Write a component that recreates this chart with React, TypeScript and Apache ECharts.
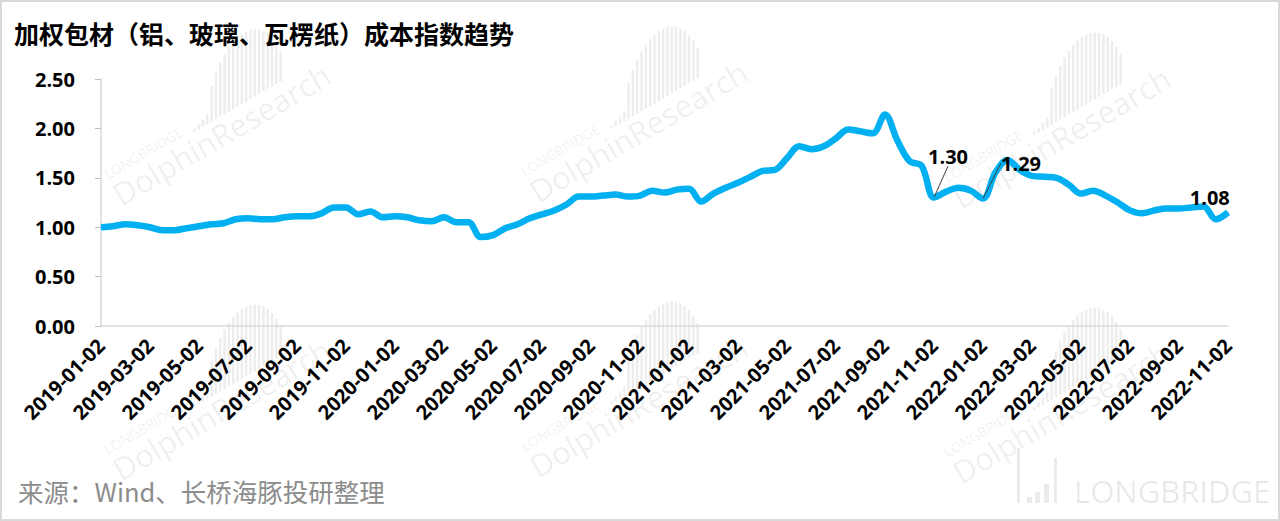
import React, { useEffect, useRef } from "react";
import * as echarts from "echarts";

const dates: string[] = [
  "2019-01-02", "2019-01-17", "2019-02-02", "2019-02-17", "2019-03-02", "2019-03-17", "2019-04-02", "2019-04-17",
  "2019-05-02", "2019-05-17", "2019-06-02", "2019-06-17", "2019-07-02", "2019-07-17", "2019-08-02", "2019-08-17",
  "2019-09-02", "2019-09-17", "2019-10-02", "2019-10-17", "2019-11-02", "2019-11-17", "2019-12-02", "2019-12-17",
  "2020-01-02", "2020-01-17", "2020-02-02", "2020-02-17", "2020-03-02", "2020-03-17", "2020-04-02", "2020-04-17",
  "2020-05-02", "2020-05-17", "2020-06-02", "2020-06-17", "2020-07-02", "2020-07-17", "2020-08-02", "2020-08-17",
  "2020-09-02", "2020-09-17", "2020-10-02", "2020-10-17", "2020-11-02", "2020-11-17", "2020-12-02", "2020-12-17",
  "2021-01-02", "2021-01-17", "2021-02-02", "2021-02-17", "2021-03-02", "2021-03-17", "2021-04-02", "2021-04-17",
  "2021-05-02", "2021-05-17", "2021-06-02", "2021-06-17", "2021-07-02", "2021-07-17", "2021-08-02", "2021-08-17",
  "2021-09-02", "2021-09-17", "2021-10-02", "2021-10-17", "2021-11-02", "2021-11-17", "2021-12-02", "2021-12-17",
  "2022-01-02", "2022-01-17", "2022-02-02", "2022-02-17", "2022-03-02", "2022-03-17", "2022-04-02", "2022-04-17",
  "2022-05-02", "2022-05-17", "2022-06-02", "2022-06-17", "2022-07-02", "2022-07-17", "2022-08-02", "2022-08-17",
  "2022-09-02", "2022-09-17", "2022-10-02", "2022-10-17", "2022-11-02",
];

const costIndex: number[] = [
  1.00, 1.01, 1.03, 1.02, 1.00, 0.97, 0.97, 0.99,
  1.01, 1.03, 1.04, 1.08, 1.09, 1.08, 1.08, 1.10,
  1.11, 1.11, 1.14, 1.20, 1.20, 1.13, 1.16, 1.10,
  1.11, 1.10, 1.07, 1.06, 1.10, 1.05, 1.05, 0.90,
  0.92, 0.99, 1.03, 1.09, 1.13, 1.17, 1.23, 1.31,
  1.31, 1.32, 1.33, 1.31, 1.32, 1.37, 1.35, 1.38,
  1.39, 1.26, 1.34, 1.40, 1.45, 1.51, 1.57, 1.58,
  1.70, 1.82, 1.79, 1.82, 1.90, 1.99, 1.97, 1.95,
  2.14, 1.88, 1.67, 1.62, 1.30, 1.36, 1.40, 1.37,
  1.29, 1.55, 1.68, 1.58, 1.52, 1.51, 1.50, 1.43,
  1.34, 1.37, 1.32, 1.25, 1.17, 1.14, 1.17, 1.19,
  1.19, 1.20, 1.21, 1.08, 1.15,
];

// indices of annotated points and their label offsets
const annotatedIdx: number[] = [68, 72, 91];
const annotatedDx: number[] = [14, 38, -6];
const annotatedDy: number[] = [-26, -20, -6];
const annotatedLeader: boolean[] = [true, true, false];

const titleText = "加权包材（铝、玻璃、瓦楞纸）成本指数趋势";
const sourceText = "来源：Wind、长桥海豚投研整理";

const WM = "rgba(0,0,0,0.07)";
const barHeights = [3, 5, 7, 10, 36, 46, 54, 60, 64, 67, 69, 70, 70, 69, 67, 64, 60, 55, 48, 40, 30];

function watermark(ox: number, oy: number): any[] {
  const a = 0.53;
  const els: any[] = [
    {
      type: "group",
      x: ox,
      y: oy,
      rotation: a,
      z: -1,
      silent: true,
      children: [
        {
          type: "text",
          style: { x: 0, y: 0, text: "DolphinResearch", fontSize: 31, fontFamily: "Open Sans", fill: WM, textVerticalAlign: "bottom", verticalAlign: "bottom" },
        },
        {
          type: "text",
          style: { x: 2, y: -32, text: "LONGBRIDGE", fontSize: 14, fontFamily: "Open Sans", fill: WM, textVerticalAlign: "bottom", verticalAlign: "bottom" },
        },
      ],
    },
  ];
  const ux = Math.cos(a), uy = -Math.sin(a);
  const vx = -Math.sin(a), vy = -Math.cos(a);
  barHeights.forEach((h, i) => {
    const s = 100 + i * 5;
    const bx = ox + s * ux + 32 * vx;
    const by = oy + s * uy + 32 * vy;
    els.push({ type: "rect", z: -1, silent: true, shape: { x: bx, y: by - h, width: 2.5, height: h }, style: { fill: WM } });
  });
  return els;
}

export default function App() {
  const ref = useRef<HTMLDivElement>(null);
  useEffect(() => {
    const chart = echarts.init(ref.current!, null, { renderer: "svg" });
    const seriesData = costIndex.map((v, i) => {
      const k = annotatedIdx.indexOf(i);
      if (k < 0) return v;
      return { value: v, label: { show: true }, labelLine: { show: annotatedLeader[k] } };
    });
    const graphics: any[] = [
      { type: "rect", silent: true, shape: { x: 1, y: 1, width: 1278, height: 519 }, style: { fill: "none", stroke: "#d9d9d9", lineWidth: 2 } },
      ...watermark(123, 210), ...watermark(540, 207), ...watermark(963, 213),
      ...watermark(123, 485), ...watermark(540, 482), ...watermark(963, 488),
      { type: "rect", z: -1, silent: true, shape: { x: 1017, y: 448, width: 3, height: 55 }, style: { fill: "rgba(0,0,0,0.08)" } },
      { type: "rect", z: -1, silent: true, shape: { x: 1027, y: 497, width: 5, height: 6 }, style: { fill: "rgba(0,0,0,0.08)" } },
      { type: "rect", z: -1, silent: true, shape: { x: 1035, y: 492, width: 5, height: 11 }, style: { fill: "rgba(0,0,0,0.08)" } },
      { type: "rect", z: -1, silent: true, shape: { x: 1044, y: 484, width: 5, height: 19 }, style: { fill: "rgba(0,0,0,0.08)" } },
      { type: "rect", z: -1, silent: true, shape: { x: 1054, y: 458, width: 3, height: 45 }, style: { fill: "rgba(0,0,0,0.08)" } },
      { type: "text", z: -1, silent: true, style: { x: 1074, y: 491, text: "LONGBRIDGE", fontSize: 31, fontFamily: "Open Sans", fill: "rgba(0,0,0,0.09)", textVerticalAlign: "middle", verticalAlign: "middle" } },
      {
        type: "text",
        style: { x: 14, y: 33, text: titleText, fontSize: 25, fontWeight: "bold", fontFamily: "Noto Sans CJK SC", fill: "#000", textVerticalAlign: "middle", verticalAlign: "middle" },
      },
      {
        type: "text",
        style: { x: 18, y: 490, text: sourceText, fontSize: 25.5, fontFamily: "Noto Sans CJK SC", fill: "#8c8c8c", textVerticalAlign: "middle", verticalAlign: "middle" },
      },
    ];
    chart.setOption({
      animation: false,
      backgroundColor: "#fff",
      grid: { left: 101, right: 52, top: 79, bottom: 195, containLabel: false },
      xAxis: {
        type: "category",
        data: dates,
        boundaryGap: false,
        axisLine: { show: true, lineStyle: { color: "#d9d9d9", width: 1.5 } },
        axisTick: { show: false },
        splitLine: { show: false },
        axisLabel: {
          interval: (i: number) => i % 4 === 0,
          rotate: 45,
          margin: 16,
          fontSize: 20,
          fontWeight: "bold",
          fontFamily: "Open Sans",
          color: "#000",
        },
      },
      yAxis: {
        type: "value",
        min: 0,
        max: 2.5,
        interval: 0.5,
        axisLine: { show: true, lineStyle: { color: "#d9d9d9", width: 1.5 } },
        axisTick: { show: true, length: 6, lineStyle: { color: "#bfbfbf" } },
        splitLine: { show: false },
        axisLabel: {
          formatter: (v: number) => v.toFixed(2),
          margin: 26,
          fontSize: 20,
          fontWeight: "bold",
          fontFamily: "Open Sans",
          color: "#000",
        },
      },
      series: [
        {
          type: "line",
          data: seriesData,
          smooth: 0.35,
          symbol: "circle",
          symbolSize: 1,
          showSymbol: true,
          showAllSymbol: true,
          itemStyle: { color: "#00b0f0" },
          lineStyle: { color: "#00b0f0", width: 6.5 },
          label: {
            show: false,
            position: "top",
            formatter: (p: any) => Number(p.value).toFixed(2),
            fontSize: 20,
            fontWeight: "bold",
            fontFamily: "Open Sans",
            color: "#000",
          },
          labelLine: { show: false, lineStyle: { color: "#404040", width: 1 } },
          labelLayout: (p: any) => {
            const k = annotatedIdx.indexOf(p.dataIndex);
            if (k < 0) return {};
            return { dx: annotatedDx[k], dy: annotatedDy[k] };
          },
          z: 3,
        },
      ],
      graphic: { elements: graphics },
    });
    return () => chart.dispose();
  }, []);
  return <div ref={ref} style={{ position: "fixed", left: 0, top: 0, width: 1280, height: 521, background: "#fff" }} />;
}
